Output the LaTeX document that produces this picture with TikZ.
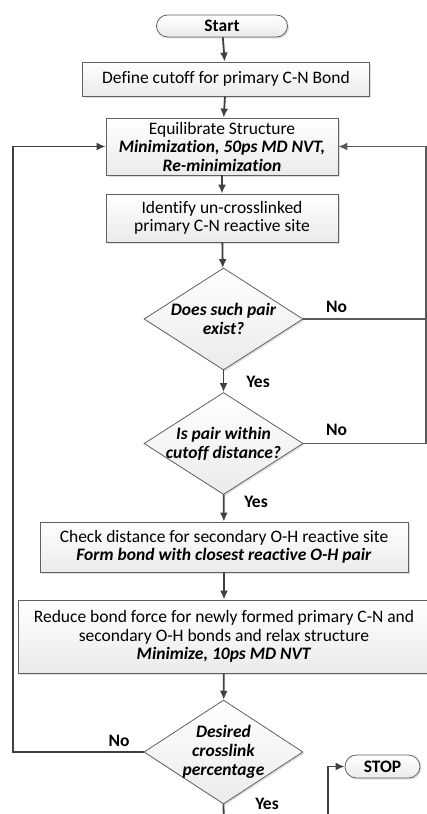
\documentclass[tikz,border=0pt]{standalone}
\usepackage{fontspec}
\setmainfont{Carlito}[Ligatures=NoCommon]
\usetikzlibrary{arrows.meta,shapes,shadows}

\begin{document}
\begin{tikzpicture}[
  x=1pt, y=-1pt,
  >={Latex[length=9pt,width=8pt]},
  font=\fontsize{17.5}{18.5}\selectfont,
  box/.style={draw=gray!75!black, line width=0.8pt, top color=white, bottom color=gray!16,
    align=center, inner sep=2pt,
    drop shadow={opacity=0.25, shadow xshift=1.5pt, shadow yshift=-1.5pt}},
  term/.style={box, rounded rectangle, font=\fontsize{17.5}{18.5}\selectfont\bfseries},
  ask/.style={box, diamond, aspect=1.56, inner sep=-6pt,
    minimum width=159pt, minimum height=102pt, font=\fontsize{17.5}{19}\selectfont\bfseries\itshape},
  flow/.style={->, line width=1.8pt, draw=black!75},
  back/.style={line width=1.3pt, draw=black!65},
  tag/.style={font=\fontsize{17.5}{18}\selectfont\bfseries, inner sep=0pt}
]
\useasboundingbox (0,0) rectangle (427,814);

% main column
\node[term, minimum width=135pt, minimum height=22pt] (start) at (222,26) {Start};
\node[box, minimum width=287pt, minimum height=34pt] (define) at (226,79)
  {Define cutoff for primary C-N Bond};
\node[box, minimum width=232pt, minimum height=57pt] (equil) at (222,146.5)
  {Equilibrate Structure\\ \textbf{\textit{Minimization, 50ps MD NVT,}}\\ \textbf{\textit{Re-minimization}}};
\node[box, minimum width=232pt, minimum height=48pt] (ident) at (222,218)
  {Identify un-crosslinked\\ primary C-N reactive site};
\node[ask] (exist) at (223.5,319) {Does such pair\\ exist?};
\node[ask] (within) at (223.5,443.5) {Is pair within\\ cutoff distance?};
\node[box, minimum width=368pt, minimum height=50pt] (check) at (224,547)
  {Check distance for secondary O-H reactive site\\ \textbf{\textit{Form bond with closest reactive O-H pair}}};
\node[box, minimum width=412pt, minimum height=73pt] (reduce) at (224,636.5)
  {Reduce bond force for newly formed primary C-N and\\ secondary O-H bonds and relax structure\\ \textbf{\textit{Minimize, 10ps MD NVT}}};
\node[ask, minimum height=104pt] (desired) at (223.5,752) {Desired\\ crosslink\\ percentage};
\node[term, minimum width=79pt, minimum height=23pt] (stop) at (382.5,766.5) {STOP};

% straight arrows down the column
\foreach \a/\b in {start/define, define/equil, equil/ident, ident/exist,
                   exist/within, within/check, check/reduce, reduce/desired} {
  \draw[flow] (\a) -- (\b);
}

% loop back on the right
\coordinate (rside) at (426,0);
\draw[back] (exist.east) -- (exist.east -| rside);
\draw[back,->] (within.east) -| (rside |- equil.east) -- (equil.east);

% loop back on the left
\coordinate (lside) at (13,0);
\draw[flow] (desired.west) -| (lside |- equil.west) -- (equil.west);

% way out to STOP
\coordinate (ybot) at (224,830);
\coordinate (sbot) at (328,830);
\draw[flow,-] (desired.south) -- (ybot);
\draw[flow] (sbot) |- (stop.west);

% branch labels
\node[tag] (no1) at (336.5,307) {No};
\node[tag] (yes1) at (258,382) {Yes};
\node[tag] (no2) at (336.5,430) {No};
\node[tag] (yes2) at (256,502) {Yes};
\node[tag] (no3) at (119,741) {No};
\node[tag] (yes3) at (267,804) {Yes};

\end{tikzpicture}
\end{document}
